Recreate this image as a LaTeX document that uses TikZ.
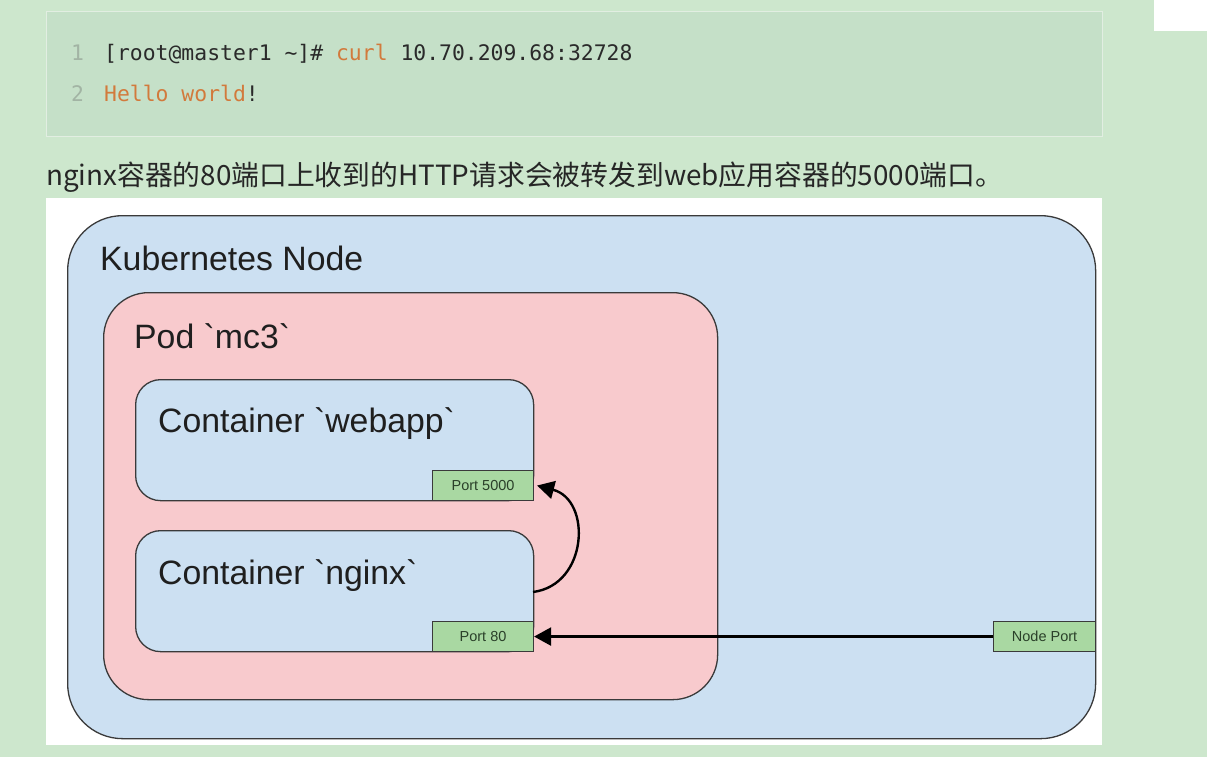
\documentclass[tikz,border=0pt]{standalone}
\usepackage{fontspec}
\setmainfont{Liberation Sans}[Ligatures=TeXOff]
\newfontfamily\cjk{Noto Sans CJK SC}
\newfontfamily\codefont{DejaVu Sans Mono}
\usetikzlibrary{arrows.meta}
\newcommand{\bq}{\symbol{96}}
\definecolor{pagebg}{HTML}{CDE7CD}
\definecolor{codebg}{HTML}{C5E0C8}
\definecolor{codeborder}{HTML}{E2EEE2}
\definecolor{nodeblue}{HTML}{CCE0F2}
\definecolor{podpink}{HTML}{F8CACD}
\definecolor{portgreen}{HTML}{A9D8A2}
\definecolor{porttext}{HTML}{2A4029}
\definecolor{kwor}{HTML}{D27A3C}
\definecolor{lnum}{HTML}{A2B4A4}
\definecolor{codetxt}{HTML}{2A2A2A}
\definecolor{edge}{HTML}{3A3A3A}
\tikzset{
  box/.style={draw=edge, line width=1.3pt, anchor=north west, inner sep=0pt},
  title/.style={anchor=base west, inner sep=0pt, font=\fontsize{33.8}{36}\selectfont, text=black!88},
  portbox/.style={draw=edge, line width=1.1pt, fill=portgreen, anchor=north west, inner sep=0pt,
    minimum width=101pt, minimum height=30pt, font=\fontsize{14.5}{16}\selectfont, text=porttext},
  codeline/.style={anchor=base west, inner sep=0pt, font=\codefont\fontsize{21.4}{24}\selectfont, text=codetxt},
  conn/.style={line width=2.4pt, black, -{Triangle[length=17pt,width=18pt]}}
}
\begin{document}
\begin{tikzpicture}[x=1pt,y=-1pt]
\useasboundingbox (0,0) rectangle (1207,757);
\fill[pagebg] (0,0) rectangle (1207,757);
\fill[white] (1154,0) rectangle (1207,31);
% code block
\node[draw=codeborder, line width=1pt, fill=codebg, anchor=north west, inner sep=0pt,
  minimum width=1056pt, minimum height=125pt] (code) at (46,11) {};
\node[codeline, text=lnum] (ln1) at (71,61) {1};
\node[codeline] (l1) at (104,61) {[root@master1 \textasciitilde]\# \textcolor{kwor}{curl} 10.70.209.68:32728};
\node[codeline, text=lnum] (ln2) at (71,102) {2};
\node[codeline] (l2) at (104,102) {\textcolor{kwor}{Hello world}!};
% sentence
\node[anchor=base west, inner sep=0pt, font=\cjk\fontsize{27.8}{30}\selectfont, text=black!85] (sent) at (46,185)
  {nginx容器的80端口上收到的HTTP请求会被转发到web应用容器的5000端口。};
% diagram
\fill[white] (46,198) rectangle (1102,745);
\node[box, fill=nodeblue, rounded corners=55pt, minimum width=1028pt, minimum height=523pt] (knode) at (67,215) {};
\node[title] (ktitle) at (100,270) {Kubernetes Node};
\node[box, fill=podpink, rounded corners=45pt, minimum width=614pt, minimum height=407pt] (pod) at (103,292) {};
\node[title] (ptitle) at (134,348) {Pod \bq mc3\bq};
\node[box, fill=nodeblue, rounded corners=25pt, minimum width=398pt, minimum height=121pt] (web) at (135,379) {};
\node[title] (wtitle) at (158,432) {Container \bq webapp\bq};
\node[portbox] (p5000) at (432,470) {Port 5000};
\node[box, fill=nodeblue, rounded corners=25pt, minimum width=398pt, minimum height=121pt] (ngx) at (135,530) {};
\node[title] (ntitle) at (158,584) {Container \bq nginx\bq};
\node[portbox] (p80) at (432,621) {Port 80};
\node[portbox, minimum width=102pt] (np) at (993,621) {Node Port};
% connectors
\draw[conn] (np.west) -- (p80.east);
\coordinate (cstart) at (533,592);
\draw[conn] (cstart) .. controls (588,585) and (592,500) .. ([xshift=3pt]p5000.east);
\end{tikzpicture}
\end{document}
